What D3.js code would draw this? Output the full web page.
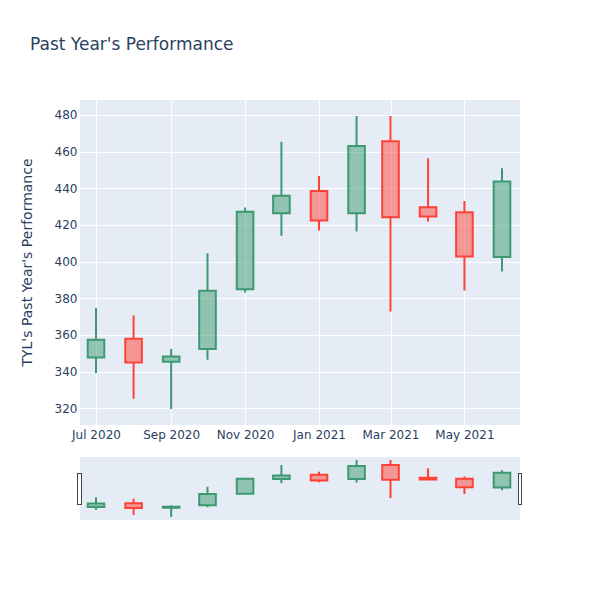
<!DOCTYPE html>
<html>
<head>
<meta charset="utf-8">
<script src="https://cdn.jsdelivr.net/npm/d3@7"></script>
<style>
  body { margin: 0; background: #fff; }
  text { font-family: "DejaVu Sans", Verdana, sans-serif; fill: #2a3f5f; }
</style>
</head>
<body>
<svg id="chart" width="600" height="600"></svg>
<script>
// ---- data ----
const dates  = ["2020-07-01","2020-08-01","2020-09-01","2020-10-01","2020-11-01","2020-12-01",
                "2021-01-01","2021-02-01","2021-03-01","2021-04-01","2021-05-01","2021-06-01"];
const opens  = [347.7, 357.9, 345.4, 352.3, 385.0, 426.4, 438.6, 426.4, 465.7, 429.7, 427.0, 402.5];
const highs  = [374.7, 370.6, 352.3, 404.6, 429.5, 465.5, 446.8, 479.5, 479.5, 456.4, 433.1, 451.0];
const lows   = [339.2, 325.2, 319.6, 346.5, 383.2, 414.2, 417.0, 416.4, 372.8, 421.9, 384.3, 394.6];
const closes = [357.4, 345.0, 348.3, 384.1, 427.3, 436.0, 422.4, 463.1, 424.3, 424.6, 402.8, 443.7];
const yTicks = [320, 340, 360, 380, 400, 420, 440, 460, 480];
const titleText = "Past Year's Performance";
const yTitleText = "TYL's Past Year's Performance";

const parse = d3.timeParse("%Y-%m-%d");
const rows = dates.map((d, i) => ({
  date: parse(d), open: opens[i], high: highs[i], low: lows[i], close: closes[i]
}));

const svg = d3.select("#chart");
const W = 600, H = 600;
const plot = { left: 80, right: 520, top: 100, bottom: 425 };
const slider = { top: 457, bottom: 520 };

const DAY = 864e5;
const first = rows[0].date, last = rows[rows.length - 1].date;
const x = d3.scaleTime()
  .domain([new Date(+first - 13.2 * DAY), new Date(+last + 14.85 * DAY)])
  .range([plot.left, plot.right]);

const minV = d3.min(lows), maxV = d3.max(highs);
const pad = (maxV - minV) * 0.0545;
const yDomain = [minV - pad, maxV + pad];
const y = d3.scaleLinear().domain(yDomain).range([plot.bottom, plot.top]);
const ys = d3.scaleLinear().domain(yDomain).range([slider.bottom, slider.top]);

const inc = { line: "#3D9970", fill: "rgba(61,153,112,0.5)" };
const dec = { line: "#FF4136", fill: "rgba(255,65,54,0.5)" };
const boxDays = 13.7;

// background
svg.append("rect").attr("x", 0).attr("y", 0).attr("width", W).attr("height", H).attr("fill", "#fff");
svg.append("rect")
  .attr("x", plot.left).attr("y", plot.top)
  .attr("width", plot.right - plot.left).attr("height", plot.bottom - plot.top)
  .attr("fill", "#E5ECF6");

// grid
const xTicks = x.ticks(d3.timeMonth.every(2));
svg.append("g").selectAll("line").data(yTicks).join("line")
  .attr("x1", plot.left).attr("x2", plot.right)
  .attr("y1", d => Math.round(y(d)) + 0.5).attr("y2", d => Math.round(y(d)) + 0.5)
  .attr("stroke", "#fff").attr("stroke-width", 1);
svg.append("g").selectAll("line").data(xTicks).join("line")
  .attr("x1", d => Math.round(x(d)) + 0.5).attr("x2", d => Math.round(x(d)) + 0.5)
  .attr("y1", plot.top).attr("y2", plot.bottom)
  .attr("stroke", "#fff").attr("stroke-width", 1);

// axes
const yAxis = d3.axisLeft(y).tickValues(yTicks).tickSize(0).tickPadding(2.5);
const gy = svg.append("g").attr("transform", `translate(${plot.left},0)`).call(yAxis);
gy.select(".domain").remove();
gy.selectAll("text").attr("font-size", 12).style("fill", "#2a3f5f")
  .attr("font-family", '"DejaVu Sans", Verdana, sans-serif');

const xAxis = d3.axisBottom(x).tickValues(xTicks).tickFormat(d3.timeFormat("%b %Y")).tickSize(0).tickPadding(5);
const gx = svg.append("g").attr("transform", `translate(0,${plot.bottom})`).call(xAxis);
gx.select(".domain").remove();
gx.selectAll("text").attr("font-size", 12).style("fill", "#2a3f5f")
  .attr("font-family", '"DejaVu Sans", Verdana, sans-serif');

// candles
function candlePath(d, ysc) {
  const xc = x(d.date);
  const half = (x(new Date(+d.date + boxDays * DAY)) - xc) / 2;
  const x0 = xc - half, x1 = xc + half;
  const yo = ysc(d.open), yc = ysc(d.close);
  const top = Math.min(yo, yc), bot = Math.max(yo, yc);
  return `M${x0},${yo}H${x1}V${yc}H${x0}Z` +
         `M${xc},${top}V${ysc(d.high)}` +
         `M${xc},${bot}V${ysc(d.low)}`;
}
function drawCandles(g, ysc) {
  g.selectAll("path").data(rows).join("path")
    .attr("d", d => candlePath(d, ysc))
    .attr("fill", d => (d.close >= d.open ? inc : dec).fill)
    .attr("stroke", d => (d.close >= d.open ? inc : dec).line)
    .attr("stroke-width", 2);
}
drawCandles(svg.append("g"), y);

// titles
svg.append("text").attr("x", 30).attr("y", 50).attr("font-size", 17).text(titleText);
svg.append("text")
  .attr("transform", `translate(32,${(plot.top + plot.bottom) / 2}) rotate(-90)`)
  .attr("text-anchor", "middle").attr("font-size", 14).text(yTitleText);

// range slider
svg.append("rect")
  .attr("x", plot.left).attr("y", slider.top)
  .attr("width", plot.right - plot.left).attr("height", slider.bottom - slider.top)
  .attr("fill", "#E5ECF6");
drawCandles(svg.append("g"), ys);
const hTop = slider.top + (slider.bottom - slider.top) * 0.26;
const hH = (slider.bottom - slider.top) * 0.49;
[plot.left - 2.2, plot.right - 1.7].forEach(hx => {
  svg.append("rect")
    .attr("x", hx).attr("y", hTop).attr("width", 3.5).attr("height", hH)
    .attr("fill", "#fff").attr("stroke", "#444").attr("stroke-width", 1)
    .attr("shape-rendering", "crispEdges");
});
</script>
</body>
</html>
